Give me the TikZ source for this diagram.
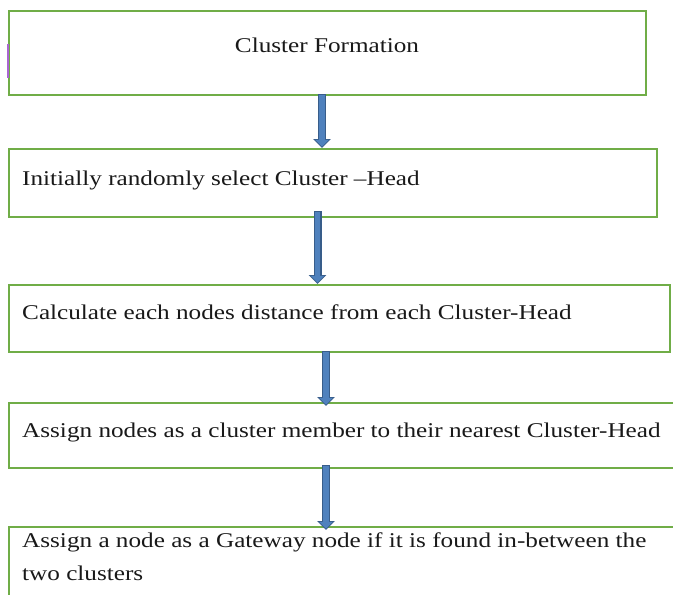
\documentclass[tikz,border=0pt]{standalone}
\usepackage{fontspec}
\setmainfont[FakeStretch=1.2]{Liberation Serif}
\usetikzlibrary{arrows.meta}
\definecolor{boxgreen}{RGB}{112,173,71}
\definecolor{arrowfill}{RGB}{79,129,189}
\definecolor{arrowedge}{RGB}{56,93,138}
\definecolor{markpurple}{RGB}{170,100,210}
\begin{document}
\begin{tikzpicture}[x=1pt,y=-1pt,
  box/.style={draw=boxgreen, line width=2pt, fill=white, inner sep=0pt},
  txt/.style={font=\fontsize{21}{32}\selectfont, inner sep=0pt, text=black!90},
  arrowouter/.style={draw=arrowedge, line width=8pt, -{Triangle[width=17pt,length=9pt]}},
  arrowinner/.style={draw=arrowfill, line width=5.5pt, -{Triangle[width=13pt,length=6.8pt]}, shorten >=1.4pt, shorten <=0.8pt}]
\useasboundingbox (0,0) rectangle (673,595);
\clip (0,0) rectangle (673,595);
\fill[white] (0,0) rectangle (673,595);
% boxes
\node[box, anchor=north west, minimum width=637pt, minimum height=84pt] (b1) at (8,10) {};
\node[box, anchor=north west, minimum width=648pt, minimum height=68pt] (b2) at (8,148) {};
\node[box, anchor=north west, minimum width=661pt, minimum height=67pt] (b3) at (8,284) {};
\node[box, anchor=north west, minimum width=680pt, minimum height=65pt] (b4) at (8,402) {};
\node[box, anchor=north west, minimum width=680pt, minimum height=100pt] (b5) at (8,526) {};
% small purple mark on the first box edge
\draw[markpurple, line width=1.2pt] (8,44) -- (8,78);
% texts
\node[txt, anchor=base] (t1) at (327,52) {Cluster Formation};
\node[txt, anchor=base west] (t2) at (22,185) {Initially randomly select Cluster –Head};
\node[txt, anchor=base west] (t3) at (22,319) {Calculate each nodes distance from each Cluster-Head};
\node[txt, anchor=base west] (t4) at (22,437) {Assign nodes as a cluster member to their nearest Cluster-Head};
\node[txt, anchor=base west] (t5a) at (22,547) {Assign a node as a Gateway node if it is found in-between the};
\node[txt, anchor=base west] (t5b) at (22,580) {two clusters};
% arrow end points
\coordinate (a1s) at (322,94);   \coordinate (a1e) at (322,148);
\coordinate (a2s) at (317.5,211); \coordinate (a2e) at (317.5,284);
\coordinate (a3s) at (326,351);  \coordinate (a3e) at (326,406);
\coordinate (a4s) at (326,465);  \coordinate (a4e) at (326,530);
% arrows
\foreach \i in {1,2,3,4}{
  \draw[arrowouter] (a\i s) -- (a\i e);
  \draw[arrowinner] (a\i s) -- (a\i e);
}
\end{tikzpicture}
\end{document}
